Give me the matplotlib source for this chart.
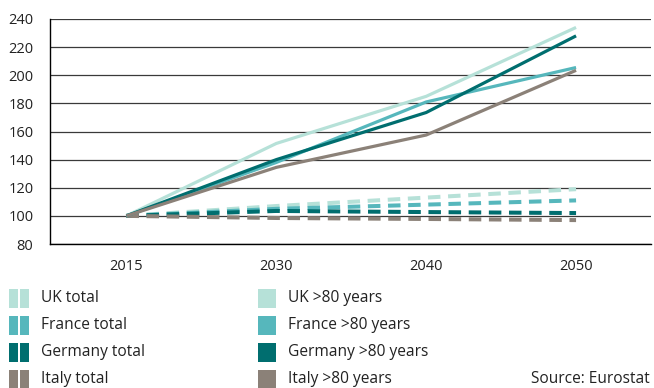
import matplotlib.pyplot as plt
from matplotlib.patches import Rectangle

plt.rcParams['font.family'] = ['Open Sans', 'DejaVu Sans']
plt.rcParams['lines.scale_dashes'] = False

# population index, 2015 = 100
years = ['2015', '2030', '2040', '2050']
countries = ['UK', 'France', 'Germany', 'Italy']
colors = ['#b6e1d8', '#56b7bc', '#006e6f', '#8b8178']

uk_total = [100, 107, 113, 119]
france_total = [100, 105, 108, 111]
germany_total = [100, 103.5, 102.7, 102]
italy_total = [100, 98.5, 97.8, 97]

uk_80 = [100, 151.5, 185, 234]
france_80 = [100, 138, 181, 205.5]
germany_80 = [100, 140, 173.5, 228]
italy_80 = [100, 134.5, 157.5, 203.5]

totals = [uk_total, france_total, germany_total, italy_total]
over80 = [uk_80, france_80, germany_80, italy_80]

W, H = 654, 388
fig = plt.figure(figsize=(W / 100, H / 100), dpi=100)
ax = fig.add_axes([50 / W, 1 - 244 / H, 601 / W, 225 / H])

x = range(len(years))
for vals, c in zip(totals, colors):
    ax.plot(x, vals, color=c, lw=2.9, ls=(0, (9, 5.5)), solid_capstyle='butt',
            dash_capstyle='butt')
for vals, c in zip(over80, colors):
    ax.plot(x, vals, color=c, lw=2.3, solid_capstyle='butt', solid_joinstyle='miter')

ax.set_ylim(80, 240)
ax.set_xlim(-0.51, 3.5)
ax.set_yticks(range(80, 241, 20))
ax.set_xticks(list(x))
ax.set_xticklabels(years)
ax.yaxis.grid(True, color='#3a3a3a', lw=0.9)
ax.set_axisbelow(True)
for s in ['top', 'right']:
    ax.spines[s].set_visible(False)
for s in ['left', 'bottom']:
    ax.spines[s].set_color('black')
    ax.spines[s].set_linewidth(1.0)
ax.tick_params(axis='both', length=0, labelsize=10.5, colors='#222222')
ax.tick_params(axis='y', pad=12)
ax.tick_params(axis='x', pad=11)


def fx(px):
    return px / W


def fy(py):
    return 1 - py / H


# legend: dashed series get a split square, solid ones a full square
row_y = [298, 325, 352, 379]
for i, (name, c) in enumerate(zip(countries, colors)):
    yc = row_y[i]
    for x0 in (9, 20):
        fig.add_artist(Rectangle((fx(x0), fy(yc + 9.5)), 8.5 / W, 19 / H,
                                 transform=fig.transFigure, color=c, lw=0))
    fig.text(fx(41), fy(yc), f'{name} total', fontsize=11.2, color='#222222',
             va='center', ha='left')
    fig.add_artist(Rectangle((fx(258), fy(yc + 9.5)), 18 / W, 19 / H,
                             transform=fig.transFigure, color=c, lw=0))
    fig.text(fx(288), fy(yc), f'{name} >80 years', fontsize=11.2, color='#222222',
             va='center', ha='left')

fig.text(fx(650), fy(379), 'Source: Eurostat', fontsize=11.2, color='#222222',
         va='center', ha='right')

fig.savefig('out.png', dpi=100)
